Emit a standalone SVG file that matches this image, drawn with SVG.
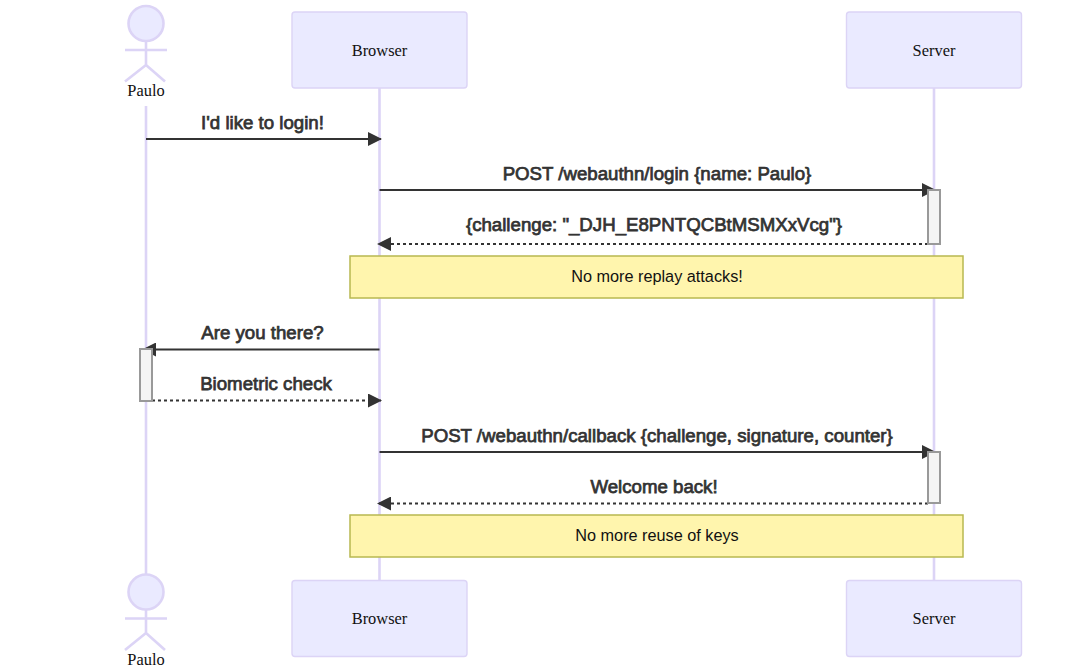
<svg xmlns="http://www.w3.org/2000/svg" width="1080" height="669" viewBox="0 0 1080 669">
<style>
.life{stroke:#dcd4f6;stroke-width:2.6;fill:none}
.box{fill:#eaeaff;stroke:#dcd4f6;stroke-width:1.4}
.limb{stroke:#dcd4f6;stroke-width:2.6;fill:none}
.head{fill:#eaeaff;stroke:#dcd4f6;stroke-width:2.6}
.atxt{font-family:"Liberation Serif",serif;font-size:16.4px;fill:#111;text-anchor:middle}
.msg{font-family:"Liberation Sans",Arial,sans-serif;font-size:18.67px;fill:#333;stroke:#333;stroke-width:.75;text-anchor:middle}
.note{fill:#fff5ad;stroke:#b8b850;stroke-width:1.5}
.ntxt{font-family:"Liberation Sans",Arial,sans-serif;font-size:16.25px;fill:#111;text-anchor:middle}
.act{fill:#f4f4f4;stroke:#999;stroke-width:2}
.line{stroke:#333;stroke-width:2.1;fill:none}
.dash{stroke-dasharray:3 3}
</style>
<defs>
<marker id="arrow" markerUnits="userSpaceOnUse" markerWidth="15" markerHeight="14" refX="13" refY="7" orient="auto"><path d="M0 0L14 7L0 14z" fill="#333"/></marker>
</defs>
<g id="lifelines">
<line class="life" x1="146" y1="106" x2="146" y2="575"/>
<line class="life" x1="379.500" y1="88" x2="379.500" y2="581"/>
<line class="life" x1="934" y1="88" x2="934" y2="581"/>
</g>
<g id="actor-paulo-top">
<circle class="head" cx="146" cy="23.500" r="17.500"/>
<path class="limb" d="M146 41V65M125 50H167M146 65L125 81.500M146 65L165 81.500"/>
<text class="atxt" x="146" y="96">Paulo</text>
</g>
<g id="actor-browser-top">
<rect class="box" x="292" y="12" width="175" height="76" rx="3"/>
<text class="atxt" x="379.500" y="56">Browser</text>
</g>
<g id="actor-server-top">
<rect class="box" x="846.500" y="12" width="175" height="76" rx="3"/>
<text class="atxt" x="934" y="56">Server</text>
</g>
<g id="connectors">
<line class="line" x1="146" y1="139" x2="381" y2="139" marker-end="url(#arrow)"/>
<line class="line" x1="379.500" y1="190" x2="935" y2="190" marker-end="url(#arrow)"/>
<line class="line dash" x1="928" y1="244" x2="378" y2="244" marker-end="url(#arrow)"/>
<line class="line" x1="379.500" y1="349.500" x2="143" y2="349.500" marker-end="url(#arrow)"/>
<line class="line dash" x1="152" y1="400.500" x2="381" y2="400.500" marker-end="url(#arrow)"/>
<line class="line" x1="379.500" y1="452" x2="935" y2="452" marker-end="url(#arrow)"/>
<line class="line dash" x1="928" y1="503.500" x2="378" y2="503.500" marker-end="url(#arrow)"/>
</g>
<g id="activations">
<rect class="act" x="928" y="190" width="12" height="54"/>
<rect class="act" x="140" y="349" width="12" height="52"/>
<rect class="act" x="928" y="452" width="12" height="51"/>
</g>
<g id="messages">
<text class="msg" x="262.500" y="129">I'd like to login!</text>
<text class="msg" x="657" y="180">POST /webauthn/login {name: Paulo}</text>
<text class="msg" x="654" y="231">{challenge: "_DJH_E8PNTQCBtMSMXxVcg"}</text>
<text class="msg" x="262.500" y="339">Are you there?</text>
<text class="msg" x="266" y="390">Biometric check</text>
<text class="msg" x="657" y="442">POST /webauthn/callback {challenge, signature, counter}</text>
<text class="msg" x="654" y="493">Welcome back!</text>
</g>
<g id="note-1">
<rect class="note" x="350" y="256" width="613" height="42"/>
<text class="ntxt" x="657" y="282">No more replay attacks!</text>
</g>
<g id="note-2">
<rect class="note" x="350" y="515" width="613" height="42"/>
<text class="ntxt" x="657" y="541">No more reuse of keys</text>
</g>
<g id="actor-paulo-bottom">
<circle class="head" cx="146" cy="592" r="17.500"/>
<path class="limb" d="M146 610V633M125 618.500H167M146 633L125 650M146 633L165 650"/>
<text class="atxt" x="146" y="665">Paulo</text>
</g>
<g id="actor-browser-bottom">
<rect class="box" x="292" y="580.500" width="175" height="76" rx="3"/>
<text class="atxt" x="379.500" y="624">Browser</text>
</g>
<g id="actor-server-bottom">
<rect class="box" x="846.500" y="580.500" width="175" height="76" rx="3"/>
<text class="atxt" x="934" y="624">Server</text>
</g>
</svg>
